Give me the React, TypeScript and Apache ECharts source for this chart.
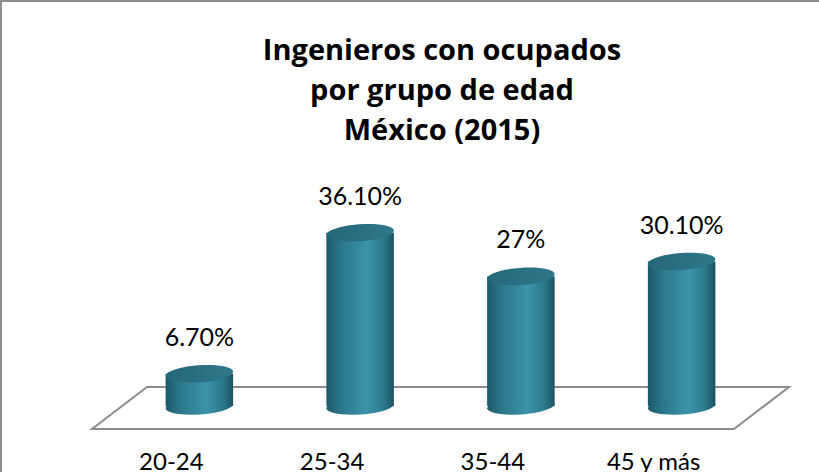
import React, { useEffect, useRef } from "react";
import * as echarts from "echarts";

const categories = ["20-24", "25-34", "35-44", "45 y más"];
const values = [6.7, 36.1, 27, 30.1];
const valueLabels = ["6.70%", "36.10%", "27%", "30.10%"];
const titleLines = ["Ingenieros con ocupados", "por grupo de edad", "México (2015)"];

const FONT = "Lato, 'Open Sans', sans-serif";
const TITLE_FONT = "'Open Sans', Lato, sans-serif";

export default function App() {
  const ref = useRef<HTMLDivElement>(null);
  useEffect(() => {
    if (!ref.current) return;
    const chart = echarts.init(ref.current, undefined, { renderer: "svg" });
    const bodyGrad = () =>
      new echarts.graphic.LinearGradient(0, 0, 1, 0, [
        { offset: 0, color: "#1d5867" },
        { offset: 0.2, color: "#2a7689" },
        { offset: 0.6, color: "#3b94aa" },
        { offset: 0.85, color: "#2c788b" },
        { offset: 1, color: "#1b5261" },
      ]);
    const topGrad = () =>
      new echarts.graphic.LinearGradient(0, 0, 1, 0, [
        { offset: 0, color: "#25687a" },
        { offset: 1, color: "#2e7789" },
      ]);
    const option: any = {
      animation: false,
      backgroundColor: "#ffffff",
      title: {
        text: titleLines.join("\n"),
        left: 442,
        top: 28,
        textAlign: "center",
        padding: 0,
        textStyle: {
          fontFamily: TITLE_FONT,
          fontSize: 29,
          fontWeight: "bold",
          lineHeight: 40,
          color: "#000",
        },
      },
      grid: { left: 119, right: 57, top: 214, bottom: 63 },
      xAxis: {
        type: "category",
        data: categories,
        axisLine: { show: false },
        axisTick: { show: false },
        splitLine: { show: false },
        axisLabel: {
          fontFamily: FONT,
          fontSize: 24,
          color: "#000",
          margin: 42,
          padding: [0, 56, 0, 0],
        },
      },
      yAxis: { type: "value", min: 0, max: 40, show: false },
      graphic: [
        {
          type: "polygon",
          z: 0,
          shape: { points: [[147, 387], [789, 387], [734, 429], [92, 429]] },
          style: { fill: "#ffffff", stroke: "#8c8c8c", lineWidth: 2 },
        },
        { type: "line", z: 10, shape: { x1: 0, y1: 1, x2: 819, y2: 1 }, style: { stroke: "#8f8f8f", lineWidth: 2 } },
        { type: "line", z: 10, shape: { x1: 1, y1: 0, x2: 1, y2: 472 }, style: { stroke: "#8f8f8f", lineWidth: 2 } },
      ],
      series: [
        {
          type: "custom",
          z: 5,
          data: values.map((v, i) => [i, v]),
          renderItem: (params: any, api: any) => {
            const idx = api.value(0);
            const val = api.value(1);
            const top = api.coord([idx, val]);
            const base = api.coord([idx, 0]);
            const band = api.size([1, 0])[0];
            const rx = band * 0.21;
            const ry = 8.5;
            const cx = top[0];
            const rot = 0.07;
            return {
              type: "group",
              children: [
                {
                  type: "ellipse",
                  shape: { cx: 0, cy: 0, rx, ry },
                  x: cx,
                  y: base[1],
                  rotation: rot,
                  style: { fill: bodyGrad() },
                },
                {
                  type: "rect",
                  shape: { x: cx - rx, y: top[1], width: rx * 2, height: base[1] - top[1] },
                  style: { fill: bodyGrad() },
                },
                {
                  type: "ellipse",
                  shape: { cx: 0, cy: 0, rx, ry },
                  x: cx,
                  y: top[1],
                  rotation: rot,
                  style: { fill: topGrad() },
                },
                {
                  type: "text",
                  x: cx,
                  y: top[1] - 38,
                  style: {
                    text: valueLabels[params.dataIndex],
                    fontFamily: FONT,
                    fontSize: 25,
                    fill: "#000",
                    align: "center",
                    verticalAlign: "middle",
                  },
                },
              ],
            };
          },
        },
      ],
    };
    chart.setOption(option);
    return () => chart.dispose();
  }, []);
  return (
    <div
      ref={ref}
      style={{ position: "fixed", left: 0, top: 0, width: 819, height: 472 }}
    />
  );
}
